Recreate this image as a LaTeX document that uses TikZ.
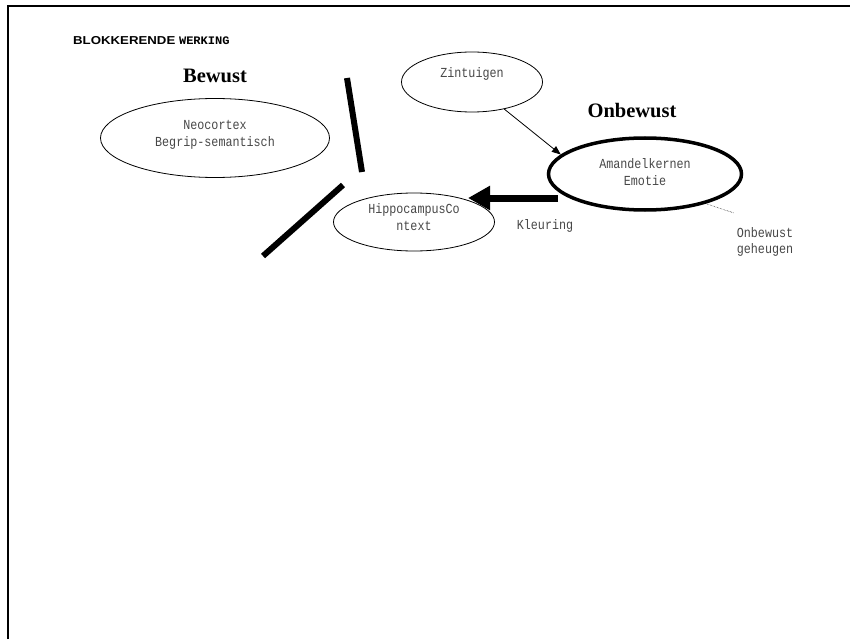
\documentclass[tikz,border=0pt]{standalone}
\usepackage{fontspec}
\setmainfont{Liberation Mono}
\newfontfamily\narrowfont[FakeStretch=0.85]{Liberation Mono}
\newfontfamily\headfont{Liberation Serif}
\newfontfamily\hdrfont[FakeStretch=1.15]{Liberation Sans}
\newfontfamily\hdrmono[FakeStretch=1.05]{Liberation Mono}
\usetikzlibrary{arrows.meta,shapes.geometric}

\tikzset{
  blob/.style={draw, ellipse, inner sep=0pt, line width=0.8pt},
  inner/.style={anchor=base, inner sep=0pt, text=black!72, font=\narrowfont\fontsize{13.8}{16}\selectfont},
  heading/.style={anchor=base, inner sep=0pt, font=\headfont\fontsize{20.5}{24}\selectfont\bfseries},
  barrier/.style={line width=6pt},
}

\begin{document}
\begin{tikzpicture}[x=1pt,y=-1pt]
\useasboundingbox (0,0) rectangle (850,639);

% page frame
\draw[line width=2pt] (8,639) -- (8,6) -- (851,6);

% title
\node[anchor=base west, inner sep=0pt] (title) at (73,45)
  {\hdrfont\fontsize{11.5}{12}\selectfont\bfseries BLOKKERENDE\ \hdrmono\fontsize{11.5}{12}\selectfont\bfseries WERKING};

% region headings
\node[heading] (bewust) at (215,83) {Bewust};
\node[heading] (onbewust) at (632,118) {Onbewust};

% ellipses
\node[blob, minimum width=229pt, minimum height=79pt] (neo) at (215,138) {};
\node[blob, minimum width=141pt, minimum height=60pt] (zin) at (472,82) {};
\node[blob, line width=3.5pt, minimum width=193pt, minimum height=72pt] (aman) at (645,174) {};
\node[blob, minimum width=161pt, minimum height=58pt] (hip) at (414,222) {};

% ellipse texts
\node[inner] (neo1) at (215,130) {Neocortex};
\node[inner] (neo2) at (215,147) {Begrip-semantisch};
\node[inner] (zin1) at (472,78) {Zintuigen};
\node[inner] (am1) at (645,168) {Amandelkernen};
\node[inner] (am2) at (645,185) {Emotie};
\node[inner] (hip1) at (414,213) {HippocampusCo};
\node[inner] (hip2) at (414,230) {ntext};

% free labels
\node[inner] (kleur) at (545,229) {Kleuring};
\node[inner] (geh1) at (765,237) {Onbewust};
\node[inner] (geh2) at (765,253) {geheugen};

% barrier strokes
\draw[barrier] (347,78) -- (362,172);
\draw[barrier] (343,185) -- (263,256);

% connectors
\draw[line width=0.8pt, -{Triangle[length=9pt,width=7pt]}] (zin.-40) -- (aman.167);
\coordinate (kstart) at (558,198);
\coordinate (ktip) at (468,198);
\draw[line width=7pt, -{Triangle[length=22pt,width=23pt]}] (kstart) -- (ktip);
\coordinate (gehend) at (734,213);
\draw[line width=0.5pt, densely dotted] (aman.-26) -- (gehend);
\end{tikzpicture}
\end{document}
